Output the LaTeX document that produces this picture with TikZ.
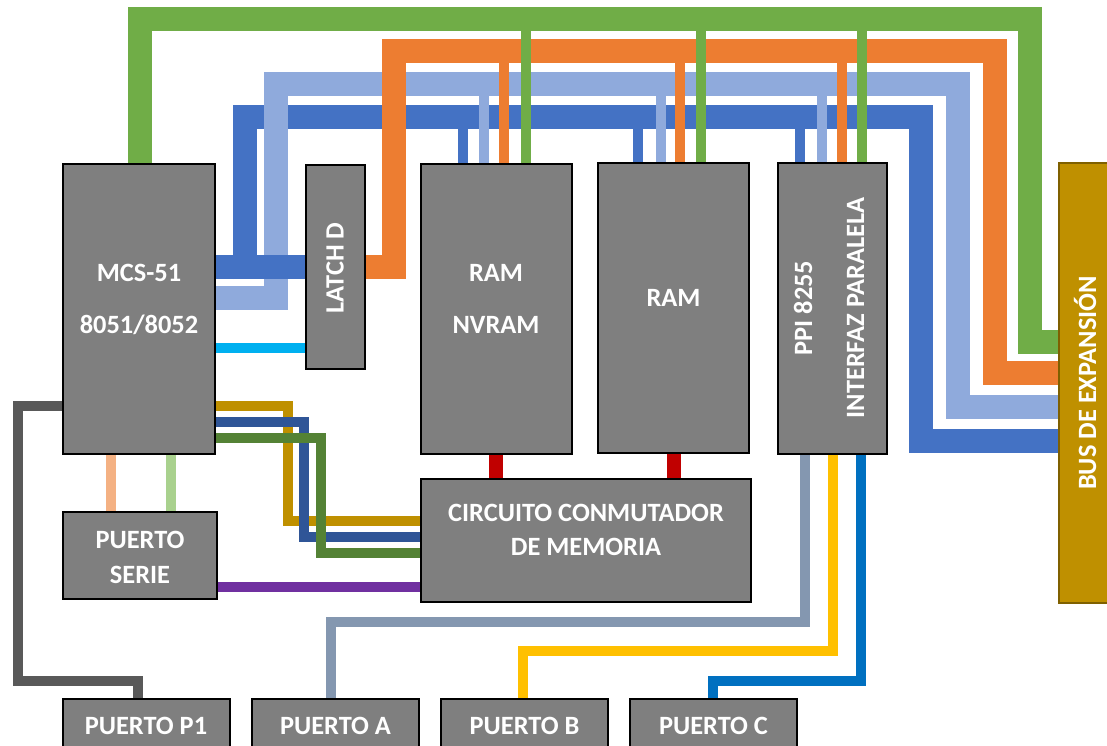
\documentclass[tikz,border=0pt]{standalone}
\usepackage{fontspec}
\setmainfont{Carlito}
\usetikzlibrary{backgrounds}
\definecolor{chipgrey}{HTML}{7F7F7F}
\definecolor{busgold}{HTML}{BF9000}
\definecolor{busedge}{HTML}{7F6000}
\definecolor{datablue}{HTML}{4472C4}
\definecolor{addrblue}{HTML}{8FAADC}
\definecolor{latchorange}{HTML}{ED7D31}
\definecolor{ctrlgreen}{HTML}{70AD47}
\definecolor{aleblue}{HTML}{00B0F0}
\definecolor{txpeach}{HTML}{F4B183}
\definecolor{rxgreen}{HTML}{A9D18E}
\definecolor{selnavy}{HTML}{2F5597}
\definecolor{selgreen}{HTML}{548235}
\definecolor{intpurple}{HTML}{7030A0}
\definecolor{csred}{HTML}{C00000}
\definecolor{pagrey}{HTML}{8497B0}
\definecolor{pbyellow}{HTML}{FFC000}
\definecolor{pcblue}{HTML}{0070C0}
\definecolor{ponegrey}{HTML}{595959}
\colorlet{selgold}{busgold}

\begin{document}
\begin{tikzpicture}[x=0.75pt,y=-0.75pt,
    chip/.style={draw=black,fill=chipgrey,line width=1.5pt,inner sep=0pt,outer sep=0pt},
    lbl/.style={text=white,align=center,inner sep=0pt,font=\bfseries\fontsize{19.8}{39}\selectfont},
    lbltight/.style={lbl,font=\bfseries\fontsize{19.8}{26}\selectfont},
    bus/.style={line width=17.5pt},
    tap/.style={line width=8pt},
    wire/.style={line width=7.5pt}]
    \useasboundingbox (0,0) rectangle (1107,746);
    % blocks
    \node[chip,minimum width=114pt,minimum height=217.5pt] (mcs) at (139,309) {};
    \node[chip,minimum width=44.25pt,minimum height=153pt] (latch) at (335.5,267) {};
    \node[chip,minimum width=113.25pt,minimum height=217.5pt] (nvram) at (496.5,309) {};
    \node[chip,minimum width=113.25pt,minimum height=217.5pt] (ram) at (673.5,308) {};
    \node[chip,minimum width=81.75pt,minimum height=218.25pt] (ppi) at (832.5,308.5) {};
    \node[chip,fill=busgold,draw=busedge,minimum width=42pt,minimum height=330pt] (bus) at (1087,383) {};
    \node[chip,minimum width=247.5pt,minimum height=92.25pt] (circ) at (586,540.5) {};
    \node[chip,minimum width=115.5pt,minimum height=65.25pt] (serie) at (140,555.5) {};
    \node[chip,minimum width=125.25pt,minimum height=45.75pt] (p1) at (146,729.5) {};
    \node[chip,minimum width=125.25pt,minimum height=45.75pt] (pa) at (335.5,729.5) {};
    \node[chip,minimum width=125.25pt,minimum height=45.75pt] (pb) at (524.5,729.5) {};
    \node[chip,minimum width=125.25pt,minimum height=45.75pt] (pc) at (713.5,729.5) {};
    \node[lbl] (mcs-t) at (139,299) {MCS-51\\8051/8052};
    \node[lbl,rotate=90] (latch-t) at (335,268) {LATCH D};
    \node[lbl] (nvram-t) at (496,299) {RAM\\NVRAM};
    \node[lbl] (ram-t) at (673.5,298) {RAM};
    \node[lbl,rotate=90] (ppi-t) at (829,308) {PPI 8255\\INTERFAZ PARALELA};
    \node[lbl,rotate=90] (bus-t) at (1085,383) {BUS DE EXPANSIÓN};
    \node[lbltight] (circ-t) at (586,530) {CIRCUITO CONMUTADOR\\DE MEMORIA};
    \node[lbltight] (serie-t) at (140,557.5) {PUERTO\\SERIE};
    \node[lbl] (p1-t) at (146,726) {PUERTO P1};
    \node[lbl] (pa-t) at (335.5,726) {PUERTO A};
    \node[lbl] (pb-t) at (524.5,726) {PUERTO B};
    \node[lbl] (pc-t) at (713.5,726) {PUERTO C};
    % buses and wires
    \begin{scope}[on background layer]
      \draw[bus,datablue] (245,279) |- (921,117) |- (bus.west |- 0,441);
      \draw[bus,addrblue] (mcs.east |- 0,298) -| (276,84) -| (958,407) -- (bus.west |- 0,407);
      \draw[bus,datablue] (mcs.east |- 0,267) -- (latch.west |- 0,267);
      \draw[bus,latchorange] (latch.east |- 0,267) -| (394,51) -| (995,373) -- (bus.west |- 0,373);
      \foreach \b/\x in {nvram/463,ram/638,ppi/800}
        \draw[tap,datablue] (\x,117) -- (\b.north -| \x,0);
      \foreach \b/\x in {nvram/484,ram/661,ppi/822}
        \draw[tap,addrblue] (\x,84) -- (\b.north -| \x,0);
      \foreach \b/\x in {nvram/504,ram/680,ppi/842}
        \draw[tap,latchorange] (\x,51) -- (\b.north -| \x,0);
      \draw[bus,ctrlgreen] (mcs.north -| 140,0) |- (1030,19) |- (bus.west |- 0,342);
      \foreach \b/\x in {nvram/526,ram/701,ppi/862}
        \draw[tap,ctrlgreen] (\x,19) -- (\b.north -| \x,0);
      \draw[wire,aleblue] (mcs.east |- 0,348) -- (latch.west |- 0,348);
      \draw[wire,selgold] (mcs.east |- 0,406) -| (288,521) -- (circ.west |- 0,521);
      \draw[wire,selnavy] (mcs.east |- 0,422) -| (304,537) -- (circ.west |- 0,537);
      \draw[wire,selgreen] (mcs.east |- 0,438) -| (321,553) -- (circ.west |- 0,553);
      \draw[wire,intpurple] (serie.east |- 0,587) -- (circ.west |- 0,587);
      \draw[wire,txpeach] (mcs.south -| 111,0) -- (serie.north -| 111,0);
      \draw[wire,rxgreen] (mcs.south -| 171,0) -- (serie.north -| 171,0);
      \draw[line width=10.5pt,csred] (nvram.south -| 496,0) -- (circ.north -| 496,0);
      \draw[line width=10.5pt,csred] (ram.south -| 674,0) -- (circ.north -| 674,0);
      \draw[wire,ponegrey] (mcs.west |- 0,406) -| (18,681) -| (p1.north -| 138,0);
      \draw[wire,pagrey] (ppi.south -| 805,0) |- (331,622) -- (pa.north -| 331,0);
      \draw[wire,pbyellow] (ppi.south -| 833,0) |- (523,651) -- (pb.north -| 523,0);
      \draw[wire,pcblue] (ppi.south -| 861,0) |- (713,681) -- (pc.north -| 713,0);
    \end{scope}
  \end{tikzpicture}
\end{document}
